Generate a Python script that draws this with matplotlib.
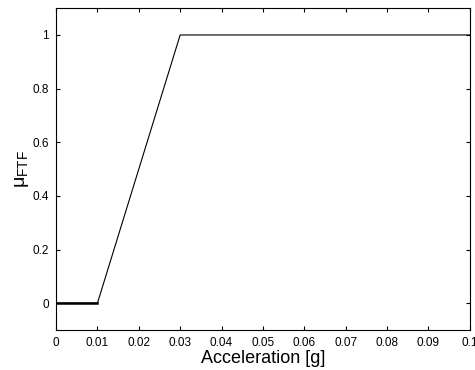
import matplotlib
matplotlib.use("Agg")
import matplotlib.pyplot as plt
import numpy as np

plt.rcParams['font.family'] = ['Liberation Sans', 'DejaVu Sans']

# membership function breakpoints
accel = [0.0, 0.01, 0.03, 0.1]
mu = [0.0, 0.0, 1.0, 1.0]
xticks = [0, 0.01, 0.02, 0.03, 0.04, 0.05, 0.06, 0.07, 0.08, 0.09, 0.1]
yticks = [0, 0.2, 0.4, 0.6, 0.8, 1]

fig = plt.figure(figsize=(4.75, 3.7), dpi=100)
ax = fig.add_axes([0.118, 0.108, 0.871, 0.87])

ax.plot(accel, mu, color='black', linewidth=0.8)
ax.plot(accel[:2], mu[:2], color='black', linewidth=1.8)

ax.set_xlim(0, 0.1)
ax.set_ylim(-0.1, 1.1)
ax.set_xticks(xticks)
ax.set_xticklabels(['0', '0.01', '0.02', '0.03', '0.04', '0.05', '0.06',
                    '0.07', '0.08', '0.09', '0.1'])
ax.set_yticks(yticks)
ax.set_yticklabels(['0', '0.2', '0.4', '0.6', '0.8', '1'])
ax.tick_params(direction='in', top=True, right=True, labelsize=8.5,
               length=3, width=0.8, pad=5)
for s in ax.spines.values():
    s.set_linewidth(0.8)

ax.set_xlabel('Acceleration [g]', fontsize=13, labelpad=1)
ax.set_ylabel(r'$\mathregular{\mu_{FTF}}$', fontsize=14, labelpad=1)

fig.savefig('out.png', dpi=100)
